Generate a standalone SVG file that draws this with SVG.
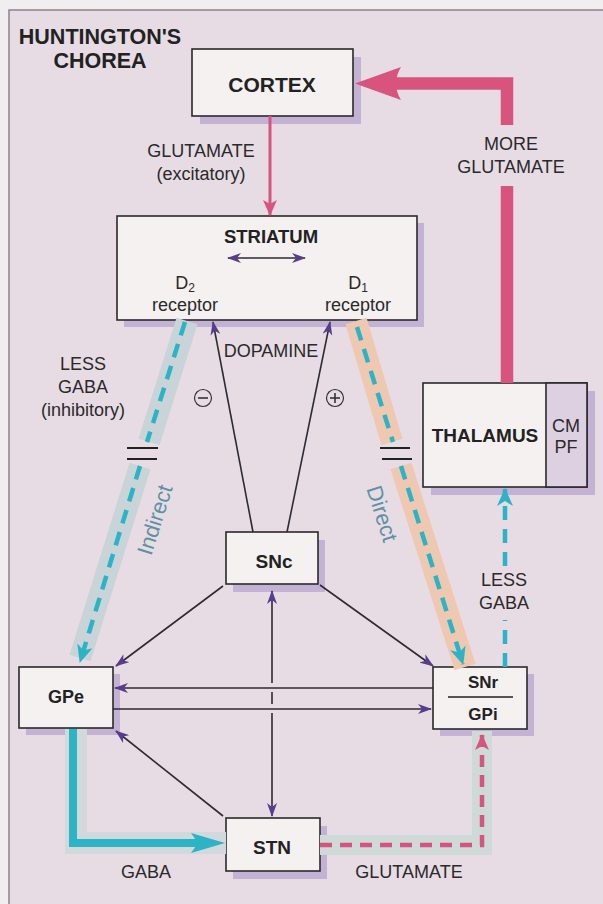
<svg xmlns="http://www.w3.org/2000/svg" width="603" height="904" viewBox="0 0 603 904">
<defs>
<style>
.box{fill:#f4f1f0;stroke:#2a2a2a;stroke-width:1.6}
.sh{fill:#c3b2d3}
.bt{font-family:"Liberation Sans",Arial,sans-serif;font-weight:bold;fill:#222;text-anchor:middle}
.lt{font-family:"Liberation Sans",Arial,sans-serif;fill:#2a2a2a;text-anchor:middle;font-size:18px}
.pl{stroke:#2e2a36;stroke-width:1.6;fill:none}
.tdash{stroke:#2cb3c6;stroke-width:4.5;fill:none;stroke-dasharray:14 9}
.pdash{stroke:#d9537f;stroke-width:4.5;fill:none;stroke-dasharray:12 8}
.eq{stroke:#222;stroke-width:2}
.path{font-family:"Liberation Sans",Arial,sans-serif;fill:#5d91a3;font-size:22px;text-anchor:middle}
</style>
<marker id="ap" viewBox="0 0 14 10" refX="13" refY="5" markerWidth="14" markerHeight="10" markerUnits="userSpaceOnUse" orient="auto-start-reverse"><path d="M0,0 L14,5 L0,10 L4,5 Z" fill="#5a3c8c"/></marker>
<marker id="at" viewBox="0 0 18 16" refX="17" refY="8" markerWidth="18" markerHeight="16" markerUnits="userSpaceOnUse" orient="auto"><path d="M0,0 L18,8 L0,16 L5,8 Z" fill="#2cb3c6"/></marker>
<marker id="apk" viewBox="0 0 16 14" refX="15" refY="7" markerWidth="16" markerHeight="14" markerUnits="userSpaceOnUse" orient="auto"><path d="M0,0 L16,7 L0,14 L4,7 Z" fill="#d9537f"/></marker>
</defs>
<rect x="0" y="0" width="603" height="904" fill="#f1eeef"/>
<rect x="9" y="10" width="610" height="910" fill="#e7dce4" stroke="#8c838a" stroke-width="1.5"/>
<text class="bt" x="100" y="44" font-size="21.5">HUNTINGTON'S</text>
<text class="bt" x="100" y="68" font-size="21.5">CHOREA</text>

<g id="cortex"><rect class="sh" x="200" y="57" width="161" height="67"/><rect class="box" x="192" y="49" width="161" height="67"/><text class="bt" x="272" y="92" font-size="21">CORTEX</text></g>
<g id="striatum"><rect class="sh" x="124" y="223" width="300" height="104"/><rect class="box" x="117" y="216" width="300" height="104"/><text class="bt" x="271" y="243" font-size="18.5">STRIATUM</text>
<text class="lt" x="185" y="289" font-size="19">D<tspan font-size="12" dy="3">2</tspan></text><text class="lt" x="185" y="311" font-size="19">receptor</text>
<text class="lt" x="358" y="289" font-size="19">D<tspan font-size="12" dy="3">1</tspan></text><text class="lt" x="358" y="311" font-size="19">receptor</text></g>
<g id="thalamus"><rect class="sh" x="431" y="391" width="164" height="104"/><rect class="box" x="423" y="383" width="164" height="104"/><rect x="546" y="383" width="41" height="104" fill="#ddd0e0" stroke="#2a2a2a" stroke-width="1.6"/><text class="bt" x="485" y="442" font-size="19">THALAMUS</text><text class="lt" x="566" y="432" font-size="16">CM</text><text class="lt" x="566" y="453" font-size="16">PF</text></g>
<g id="snc"><rect class="sh" x="233" y="540" width="92" height="52"/><rect class="box" x="226" y="532" width="92" height="52"/><text class="bt" x="274" y="568" font-size="19">SNc</text></g>
<g id="gpe"><rect class="sh" x="26" y="674" width="94" height="61"/><rect class="box" x="19" y="667" width="94" height="61"/><text class="bt" x="66" y="703" font-size="18">GPe</text></g>
<g id="snr"><rect class="sh" x="440" y="674" width="94" height="62"/><rect class="box" x="433" y="667" width="94" height="62"/><line x1="448" y1="697" x2="513" y2="697" stroke="#222" stroke-width="1.5"/><text class="bt" x="483" y="688" font-size="17">SNr</text><text class="bt" x="483" y="720" font-size="17">GPi</text></g>
<g id="stn"><rect class="sh" x="233" y="826" width="94" height="53"/><rect class="box" x="226" y="818" width="94" height="53"/><text class="bt" x="272" y="854" font-size="19">STN</text></g>

<g id="connectors">
<g stroke-linecap="butt" fill="none">
<path d="M187,321 L149,442" stroke="#c9d4d9" stroke-width="22"/>
<path d="M140,466 L80,658" stroke="#c9d4d9" stroke-width="22"/>
<path d="M356,321 L392,442" stroke="#efc8b2" stroke-width="22"/>
<path d="M401,466 L465,667" stroke="#efc8b2" stroke-width="22"/>
<path d="M76,729 V843 H226" stroke="#d2d9dc" stroke-width="22"/>
<path d="M320,845 H482 V731" stroke="#cddad8" stroke-width="20"/>
</g>
<line x1="270" y1="116" x2="270" y2="215" stroke="#d9537f" stroke-width="3" marker-end="url(#apk)"/>
<path d="M507,383 V186 M507,125 V83.5 H396" stroke="#d9537f" stroke-width="12.5" fill="none"/>
<path d="M355,83.5 L401,67 Q391,83.5 401,100 Z" fill="#d9537f"/>
<path class="tdash" d="M185,322 L147,442"/>
<path class="tdash" d="M140,466 L80,662" marker-end="url(#at)"/>
<line class="eq" x1="127" y1="448" x2="158" y2="448"/><line class="eq" x1="127" y1="459" x2="157" y2="459"/>
<path class="tdash" d="M357,327 L393,442"/>
<path class="tdash" d="M401,466 L463,664" marker-end="url(#at)"/>
<line class="eq" x1="380" y1="448" x2="410" y2="448"/><line class="eq" x1="382" y1="459" x2="412" y2="459"/>
<path class="tdash" d="M505,667 V620"/>
<path class="tdash" d="M505,566 V489" marker-end="url(#at)"/>
<path d="M73,729 V843 H200" stroke="#2cb3c6" stroke-width="8" fill="none"/>
<path d="M225,843 L191,833 L198,843 L191,853 Z" fill="#2cb3c6"/>
<path class="pdash" d="M320,845 H482 V735" marker-end="url(#apk)"/>
<line class="pl" x1="253" y1="532" x2="213" y2="322" marker-end="url(#ap)"/>
<line class="pl" x1="287" y1="532" x2="330" y2="322" marker-end="url(#ap)"/>
<line class="pl" x1="223" y1="586" x2="116" y2="666" marker-end="url(#ap)"/>
<line class="pl" x1="320" y1="585" x2="433" y2="666" marker-end="url(#ap)"/>
<line class="pl" x1="433" y1="688" x2="115" y2="688" marker-end="url(#ap)"/>
<line class="pl" x1="113" y1="709" x2="431" y2="709" marker-end="url(#ap)"/>
<line class="pl" x1="272" y1="683" x2="272" y2="591" marker-end="url(#ap)"/>
<line class="pl" x1="272" y1="692" x2="272" y2="704"/>
<line class="pl" x1="272" y1="713" x2="272" y2="816" marker-end="url(#ap)"/>
<line class="pl" x1="223" y1="816" x2="116" y2="731" marker-end="url(#ap)"/>
<line class="pl" x1="228" y1="258" x2="305" y2="258" marker-start="url(#ap)" marker-end="url(#ap)"/>
</g>

<g id="labels">
<text class="lt" x="201" y="157">GLUTAMATE</text>
<text class="lt" x="201" y="180">(excitatory)</text>
<text class="lt" x="511" y="150">MORE</text>
<text class="lt" x="511" y="173">GLUTAMATE</text>
<text class="lt" x="271" y="357" font-size="16.5">DOPAMINE</text>
<text class="lt" x="83" y="370" font-size="19">LESS</text>
<text class="lt" x="83" y="393" font-size="19">GABA</text>
<text class="lt" x="83" y="416" font-size="19">(inhibitory)</text>
<circle cx="203" cy="398" r="8.5" fill="none" stroke="#333" stroke-width="1.2"/><line x1="198" y1="398" x2="208" y2="398" stroke="#333" stroke-width="1.6"/>
<circle cx="335" cy="398" r="8.5" fill="none" stroke="#333" stroke-width="1.2"/><line x1="330" y1="398" x2="340" y2="398" stroke="#333" stroke-width="1.6"/><line x1="335" y1="393" x2="335" y2="403" stroke="#333" stroke-width="1.6"/>
<text class="path" transform="translate(162,522) rotate(-72.5)">Indirect</text>
<text class="path" transform="translate(375,516) rotate(72.5)">Direct</text>
<text class="lt" x="504" y="586">LESS</text>
<text class="lt" x="504" y="609">GABA</text>
<text class="lt" x="146" y="878">GABA</text>
<text class="lt" x="409" y="878">GLUTAMATE</text>
</g>
</svg>
